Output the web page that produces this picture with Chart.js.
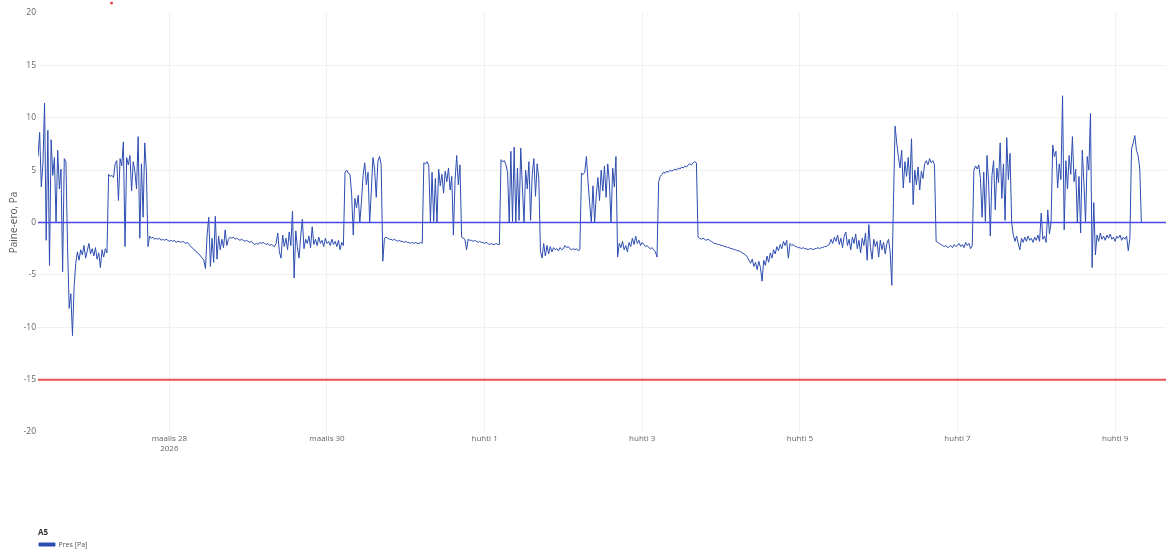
<!DOCTYPE html>
<html>
<head>
<meta charset="utf-8">
<script src="https://cdn.jsdelivr.net/npm/chart.js@4.4.1/dist/chart.umd.min.js"></script>
<style>
  html, body { margin: 0; padding: 0; background: #fff; }
  #wrap { width: 1173px; height: 554px; }
</style>
</head>
<body>
<div id="wrap"><canvas id="c" width="1173" height="554"></canvas></div>
<script>
// Pressure difference logger A5, one reading every 30 minutes.
// Time runs in hours from 28.3.2026 00:00.
const startHour = -40;
const stepHours = 0.5;

const pressure = [
  6.3, 8.6, 3.4, 5.6, 11.4, -1.7, 8.8, -4.1, 7.9, 4.5, 6.2, 0.0, 6.9, 3.2, 5.1, -4.7, 6.1, 5.8,
  -2.3, -8.2, -6.8, -10.8, -6.1, -3.9, -2.8, -3.6, -2.6, -3.1, -2.2, -3.4, -2.7, -2.0, -3.0, -2.5, -3.2, -2.4, -3.5, -2.9, -4.3, -2.6, -3.3, -2.5, -2.9,
  4.6, 4.4, 4.5, 4.3, 5.6, 5.9, 2.1, 6.1, 5.4, 7.7, -2.3, 6.2, 5.5, 6.4, 3.0, 5.8, 4.9, 3.2, 8.2, -1.5, 5.6, 0.5, 7.6, 5.0,
  -2.3, -1.3, -1.5, -1.4, -1.6, -1.5, -1.6, -1.5, -1.7, -1.6, -1.7, -1.6, -1.7, -1.8, -1.7, -1.8, -1.7, -1.9, -1.8, -1.8,
  -1.9, -1.8, -1.9, -2.0, -1.9, -2.1, -2.3, -2.4, -2.6, -2.7, -2.9, -3.0, -3.2, -3.4,
  -3.6, -4.4, -1.2, 0.5, -4.2, -1.5, -3.8, 0.6, -3.5, -1.3, -2.6, -1.6, -2.4, -0.7, -2.2, -1.6,
  -1.4, -1.5, -1.4, -1.6, -1.5, -1.6, -1.7, -1.6, -1.7, -1.8, -1.7, -1.8, -1.9, -1.8, -2.0, -2.1, -2.0, -2.1, -1.9, -2.0,
  -1.9, -2.0, -2.1, -2.0, -2.2, -2.1, -2.2, -2.3, -2.0,
  -1.0, -2.8, -3.4, -1.2, -2.3, -1.5, -2.6, -0.9, -2.2, 1.1, -5.3, -0.8, -2.4, -3.4, -1.3, 0.3, -2.5, -1.6, -2.0, -1.3,
  -2.4, -0.4, -2.1, -1.6, -2.2, -1.4, -2.0, -1.7, -2.3, -1.5, -2.0, -1.8, -2.2, -1.6, -2.1, -1.8, -2.3, -1.7, -2.6, -1.9, -2.2,
  4.8, 5.0, 4.7, 4.6, 2.8, -1.2, 2.3, 1.4, 2.6, 0.0, 2.0, 4.5, 5.7, 3.6, 4.8, 0.0, 3.0, 6.2, 5.1, 2.4, 5.8, 6.3, 5.5,
  -3.7, -1.5, -1.4, -1.5, -1.6, -1.6, -1.7, -1.6, -1.7, -1.8, -1.7, -1.8, -1.8, -1.9, -1.8, -1.9, -1.9, -2.0, -1.9, -2.0,
  -1.9, -2.0, -2.0, -1.9, -2.0,
  5.7, 5.6, 5.8, 5.4, 0.0, 4.8, 0.1, 4.2, 0.0, 5.1, 3.5, 4.6, 2.8, 4.9, 3.9, 5.2, 3.1, 4.4, -1.2, 4.0, 6.4, 3.6, 5.5,
  -1.4, -1.5, -1.6, -2.6, -1.6, -1.7, -1.7, -1.8, -1.7, -1.8, -1.9, -1.8, -1.9, -1.9, -2.0, -1.9, -2.0, -2.1, -2.0, -2.1,
  -2.1, -2.0, -2.1, -2.1,
  6.0, 5.8, 5.9, 5.5, 4.8, 0.0, 6.8, 0.1, 7.2, 0.0, 5.2, 0.2, 7.1, 3.4, 0.0, 5.0, 3.2, 5.8, 0.2, 4.6, 6.1, 2.5, 5.6, 4.2,
  -2.7, -3.4, -2.0, -3.2, -2.2, -3.0, -2.3, -2.8, -2.4, -2.6, -2.5, -2.7, -2.4, -2.6, -2.5, -2.2, -2.4, -2.3, -2.5, -2.6,
  -2.5, -2.6, -2.5, -2.7, -2.6,
  4.7, 4.6, 4.8, 6.3, 3.9, 1.8, 0.0, 3.5, 0.0, 2.6, 4.3, 2.1, 5.0, 3.0, 5.4, 2.4, 5.6, 3.8, 0.0, 5.2, 3.4, 6.3,
  -3.3, -2.0, -2.4, -1.8, -2.6, -2.2, -2.8, -1.9, -2.3, -1.5, -2.1, -1.3, -2.0, -1.7, -2.2, -1.9, -2.1, -2.3, -2.2, -2.4,
  -2.5, -2.4, -2.6, -2.8, -3.3,
  3.9, 4.4, 4.6, 4.8, 4.7, 4.9, 4.8, 5.0, 4.9, 5.0, 5.1, 5.0, 5.2, 5.1, 5.3, 5.2, 5.4, 5.3, 5.5, 5.6, 5.5, 5.7, 5.8, 5.7,
  -1.4, -1.5, -1.6, -1.5, -1.6, -1.7, -1.6, -1.7, -1.8, -1.9,
  -2.0, -2.0, -2.1, -2.1, -2.2, -2.2, -2.3, -2.3, -2.4, -2.4, -2.5, -2.5, -2.6, -2.6, -2.7, -2.7, -2.8, -2.9, -3.0, -3.1, -3.3,
  -3.6, -3.9, -3.5, -4.2, -3.8, -4.5, -3.7, -4.3, -5.6,
  -3.6, -4.1, -3.2, -3.8, -2.9, -3.4, -2.6, -3.0, -2.3, -2.7, -2.1, -2.5, -1.8, -2.2, -1.7, -3.4,
  -2.0, -2.2, -2.1, -2.3, -2.3, -2.4, -2.4, -2.5, -2.4, -2.5, -2.5, -2.6, -2.5, -2.5, -2.6, -2.5, -2.5, -2.4, -2.5, -2.4,
  -2.4, -2.3, -2.3, -2.2, -2.1,
  -1.6, -2.0, -1.4, -1.8, -1.2, -2.1, -1.5, -2.4, -1.3, -0.9, -2.2, -1.6, -2.6, -1.4, -2.0, -1.1, -2.5, -1.7, -2.9, -1.5,
  -2.2, -1.0, -3.6, -0.2, -2.4, -3.5, -1.6, -2.3, -1.8, -3.3, -1.7, -2.6, -1.9, -3.0, -2.0, -1.6, -2.8, -6.0,
  1.9, 9.2, 7.6, 6.3, 5.2, 6.9, 3.3, 5.8, 4.4, 6.2, 3.8, 8.0, 1.7, 5.0, 3.6, 5.3, 3.1, 4.9, 4.2, 5.6, 5.9, 5.5, 6.1, 5.7, 5.9, 5.5,
  -1.8, -1.9, -2.0, -2.1, -2.2, -2.3, -2.2, -2.4, -2.3, -2.2, -2.4, -2.1, -2.3, -2.2, -2.0, -2.3, -2.1, -2.4, -1.9, -2.2,
  -2.0, -2.5, -2.2,
  5.0, 5.4, 5.1, 5.5, 4.2, 0.5, 4.8, 0.1, 6.4, 3.6, -1.3, 4.5, 5.9, 1.2, 5.2, 3.8, 7.6, 2.3, 5.6, 0.2, 8.1, 4.1, 6.6, 0.0,
  -1.2, -1.8, -1.3, -2.0, -2.6, -1.5, -1.9, -1.4, -1.8, -1.3, -1.7, -1.5, -1.9, -1.4, -1.7, -1.2, -1.8, 0.9, -1.6, -1.3,
  -1.9, 1.2, -1.1, 0.0,
  7.4, 6.3, 6.8, 3.3, 5.6, 4.1, 12.1, -0.7, 5.9, 3.2, 6.4, 4.6, 8.2, 3.9, 5.1, 0.0, 4.4, -1.0, 6.9, 3.8, 0.0, 6.3, 5.0, 10.4,
  -4.3, 1.9, -3.1, -1.2, -1.8, -1.0, -1.6, -1.3, -1.7, -1.2, -1.5, -1.1, -1.6, -1.4, -1.8, -1.3, -1.5, -1.2, -1.7, -1.4,
  -1.6, -1.3, -2.7, -1.5,
  7.0, 7.6, 8.3, 6.9, 6.4, 5.2, 0.0
];

// Axis ticks: every second day at midnight.
const dayTickHours = [0, 48, 96, 144, 192, 240, 288];
const dayTickLabels = [['maalis 28', '2026'], 'maalis 30', 'huhti 1', 'huhti 3', 'huhti 5', 'huhti 7', 'huhti 9'];
const yTickValues = [-20, -15, -10, -5, 0, 5, 10, 15, 20];
const hourRange = [-40, 303.5];

// Reference levels drawn across the whole period.
const zeroLevel = [0, 0];
const alarmLevel = [-15, -15];

// Single event marker, just above the top of the scale.
const markerHour = [-17.6];
const markerValue = [20.95];

const FONT = 'Open Sans';
const seriesPoints = pressure.map((v, i) => ({ x: startHour + i * stepHours, y: v }));
const levelPoints = levels => hourRange.map((h, k) => ({ x: h, y: levels[k] }));

// The marker lies outside the plot area, where point elements are skipped,
// so it is placed with the chart's own scales after the datasets are drawn.
const eventMarker = {
  id: 'eventMarker',
  afterDatasetsDraw(chart) {
    const { ctx, scales: { x, y } } = chart;
    ctx.save();
    ctx.fillStyle = '#e03030';
    markerHour.forEach((h, k) => {
      ctx.beginPath();
      ctx.arc(x.getPixelForValue(h), y.getPixelForValue(markerValue[k]), 1.4, 0, Math.PI * 2);
      ctx.fill();
    });
    ctx.restore();
  }
};

new Chart(document.getElementById('c'), {
  type: 'line',
  data: {
    datasets: [
      { label: 'nolla', data: levelPoints(zeroLevel), borderColor: '#4848e4', borderWidth: 1.6,
        pointRadius: 0, order: 0 },
      { label: 'raja', data: levelPoints(alarmLevel), borderColor: '#ea5050', borderWidth: 2,
        pointRadius: 0, order: 1 },
      { label: 'Pres [Pa]', data: seriesPoints, borderColor: '#2c4cb0', backgroundColor: '#2c4cb0',
        borderWidth: 1, pointRadius: 0, tension: 0, order: 2 }
    ]
  },
  plugins: [eventMarker],
  options: {
    responsive: false,
    animation: false,
    events: [],
    layout: { padding: { left: 0, right: 7, top: 13, bottom: -4 } },
    plugins: {
      tooltip: { enabled: false },
      legend: {
        display: true,
        position: 'bottom',
        align: 'start',
        fullSize: false,
        title: { display: true, text: 'A5', position: 'start', color: '#333',
                 font: { family: FONT, size: 8, weight: 'bold' }, padding: { top: 0, bottom: 1.4 } },
        labels: {
          filter: item => item.text === 'Pres [Pa]',
          boxWidth: 16, boxHeight: 3, padding: 1,
          color: '#555', font: { family: FONT, size: 7 }
        }
      }
    },
    scales: {
      x: {
        type: 'linear',
        min: hourRange[0],
        max: hourRange[1],
        afterBuildTicks: s => { s.ticks = dayTickHours.map(v => ({ value: v })); },
        afterFit: s => { s.height = 97; },
        ticks: {
          callback: (v, i) => dayTickLabels[i],
          autoSkip: false, maxRotation: 0, padding: 2,
          color: '#666', font: { family: FONT, size: 8 }
        },
        grid: { color: '#f0f0f0', drawTicks: false },
        border: { display: false }
      },
      y: {
        min: -20,
        max: 20,
        afterBuildTicks: s => { s.ticks = yTickValues.map(v => ({ value: v })); },
        afterFit: s => { s.width = 38; },
        ticks: { padding: 2, color: '#666', font: { family: FONT, size: 8.5 } },
        grid: {
          color: c => (c.tick && Math.abs(c.tick.value) === 20) ? 'rgba(0,0,0,0)' : '#f0f0f0',
          drawTicks: false
        },
        border: { display: false },
        title: { display: true, text: 'Paine-ero, Pa', color: '#555',
                 font: { family: FONT, size: 10 }, padding: { top: 8, bottom: 0 } }
      }
    }
  }
});
</script>
</body>
</html>
